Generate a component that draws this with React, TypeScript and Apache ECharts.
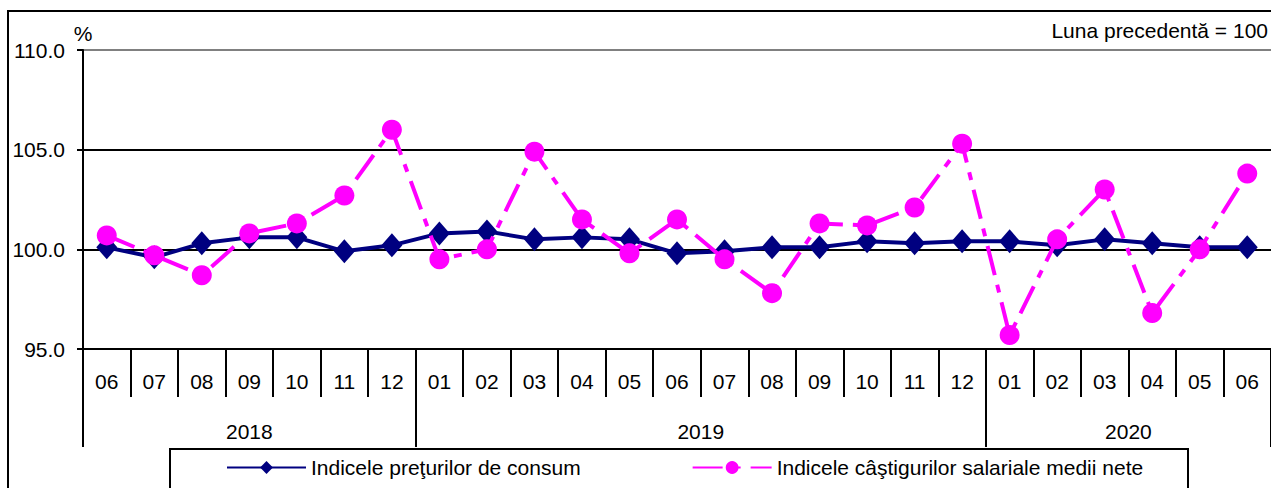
import React, { useEffect, useRef } from "react";
import * as echarts from "echarts";

const months = [
  "06", "07", "08", "09", "10", "11", "12",
  "01", "02", "03", "04", "05", "06", "07", "08", "09", "10", "11", "12",
  "01", "02", "03", "04", "05", "06",
];
const years = ["2018", "2019", "2020"];
const monthsPerYear = [7, 12, 6];

const cpiName = "Indicele preţurilor de consum";
const wageName = "Indicele câştigurilor salariale medii nete";

const cpi = [
  100.1, 99.6, 100.3, 100.6, 100.6, 99.9, 100.2,
  100.8, 100.9, 100.5, 100.6, 100.5, 99.8, 99.9, 100.1, 100.1, 100.4, 100.3, 100.4,
  100.4, 100.2, 100.5, 100.3, 100.1, 100.1,
];
const wages = [
  100.7, 99.7, 98.7, 100.8, 101.3, 102.7, 106.0,
  99.5, 100.0, 104.9, 101.5, 99.8, 101.5, 99.5, 97.8, 101.3, 101.2, 102.1, 105.3,
  95.7, 100.5, 103.0, 96.8, 100.0, 103.8,
];

const yTicks = [95, 100, 105, 110];
const subtitle = "Luna precedentă = 100";
const unit = "%";

const FONT = "'Liberation Sans', Arial, sans-serif";

export default function App() {
  const ref = useRef<HTMLDivElement>(null);

  useEffect(() => {
    if (!ref.current) return;
    const chart = echarts.init(ref.current, undefined, { renderer: "svg" });

    // year group boundaries and centres in month units
    const bounds: number[] = [0];
    monthsPerYear.forEach((n) => bounds.push(bounds[bounds.length - 1] + n));
    const centers = monthsPerYear.map((n, i) => bounds[i] + n / 2);

    const option: any = {
      animation: false,
      backgroundColor: "#fff",
      textStyle: { fontFamily: FONT },
      grid: { left: 83, right: 0, top: 50, bottom: 139, containLabel: false },
      legend: {
        left: 226,
        top: 457,
        padding: 0,
        itemWidth: 79,
        itemHeight: 16,
        itemGap: 111,
        data: [cpiName, wageName],
        textStyle: { fontSize: 21, color: "#000", fontFamily: FONT, lineHeight: 21 },
      },
      xAxis: [
        {
          type: "category",
          data: months,
          position: "bottom",
          boundaryGap: true,
          axisLine: { show: true, lineStyle: { color: "#000", width: 2 } },
          axisTick: { show: true, interval: 0, length: 48, lineStyle: { color: "#000", width: 2 } },
          axisLabel: {
            interval: 0,
            margin: 22,
            fontSize: 21,
            lineHeight: 21,
            color: "#000",
            fontFamily: FONT,
          },
          splitLine: { show: false },
        },
        {
          type: "value",
          min: 0,
          max: months.length,
          position: "bottom",
          axisLine: { show: false },
          axisTick: {
            show: true,
            customValues: bounds,
            length: 98,
            lineStyle: { color: "#000", width: 2 },
          },
          axisLabel: {
            customValues: centers,
            formatter: (v: number) => {
              const i = centers.findIndex((c) => Math.abs(c - v) < 1e-6);
              return i >= 0 ? years[i] : "";
            },
            margin: 72,
            fontSize: 21,
            lineHeight: 21,
            color: "#000",
            fontFamily: FONT,
          },
          splitLine: { show: false },
        },
      ],
      yAxis: {
        type: "value",
        min: yTicks[0],
        max: yTicks[yTicks.length - 1],
        interval: 5,
        name: unit,
        nameLocation: "end",
        nameGap: 6,
        nameTextStyle: { fontSize: 21, color: "#000", fontFamily: FONT },
        axisLine: { show: true, lineStyle: { color: "#000", width: 2 } },
        axisTick: { show: true, length: 6, lineStyle: { color: "#000", width: 2 } },
        axisLabel: {
          margin: 18,
          fontSize: 21,
          color: "#000",
          fontFamily: FONT,
          formatter: (v: number) => v.toFixed(1),
        },
        splitLine: {
          show: true,
          lineStyle: { color: ["#000", "#000", "#000", "#808080"], width: 2 },
        },
      },
      graphic: [
        {
          type: "rect",
          z: -10,
          shape: { x: 8, y: 11, width: 1400, height: 700 },
          style: { fill: "none", stroke: "#000", lineWidth: 2 },
          silent: true,
        },
        {
          type: "rect",
          z: -10,
          shape: { x: 170, y: 449, width: 1018, height: 100 },
          style: { fill: "none", stroke: "#000", lineWidth: 2 },
          silent: true,
        },
        {
          type: "text",
          right: 3,
          top: 20,
          style: { text: subtitle, fontSize: 21, fontFamily: FONT, fill: "#000" },
          silent: true,
        },
      ],
      series: [
        {
          name: cpiName,
          type: "line",
          data: cpi,
          symbol: "diamond",
          symbolSize: [21, 24],
          lineStyle: { color: "#000080", width: 4 },
          itemStyle: { color: "#000080" },
          z: 2,
        },
        {
          name: wageName,
          type: "line",
          data: wages,
          symbol: "circle",
          symbolSize: 20,
          lineStyle: { color: "#FF00FF", width: 4, type: [30, 10, 8, 10] },
          itemStyle: { color: "#FF00FF" },
          z: 3,
        },
      ],
    };

    chart.setOption(option);
    return () => chart.dispose();
  }, []);

  return (
    <div
      ref={ref}
      style={{ position: "absolute", left: 0, top: 0, width: 1271, height: 488 }}
    />
  );
}
